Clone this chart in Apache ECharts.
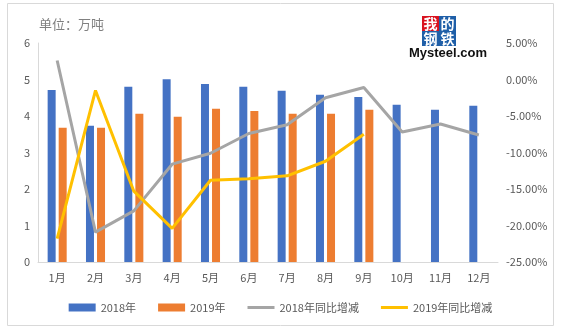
<!DOCTYPE html>
<html><head><meta charset="utf-8">
<script src="https://cdn.jsdelivr.net/npm/echarts@6/dist/echarts.min.js"></script>
<style>html,body{margin:0;padding:0;background:#fff}#c{width:561px;height:332px}</style>
</head><body><div id="c"></div>
<script>
var months = ['1月','2月','3月','4月','5月','6月','7月','8月','9月','10月','11月','12月'];
var output2018 = [4.71, 3.73, 4.80, 5.01, 4.88, 4.80, 4.69, 4.58, 4.52, 4.31, 4.17, 4.28];
var output2019 = [3.68, 3.68, 4.06, 3.98, 4.20, 4.14, 4.06, 4.06, 4.17];
var yoy2018 = [2.6, -20.9, -18.0, -11.6, -10.1, -7.4, -6.2, -2.5, -1.1, -7.2, -6.1, -7.6];
var yoy2019 = [-21.8, -1.5, -15.3, -20.4, -13.8, -13.6, -13.2, -11.2, -7.5];

var FONT = '"Noto Sans CJK SC", "Noto Sans", sans-serif';
var LINE_ICON = 'path://M0,0 L27,0 L27,3 L0,3 Z';
var chart = echarts.init(document.getElementById('c'), null, {renderer: 'canvas'});
chart.setOption({
  animation: false,
  textStyle: {fontFamily: FONT},
  grid: {left: 38, right: 63, top: 43, bottom: 70},
  graphic: [
    {type: 'rect', shape: {x: 7.5, y: 3.5, width: 546, height: 322}, style: {fill: 'none', stroke: '#d9d9d9', lineWidth: 1}},
    {type: 'text', left: 39, top: 18, style: {text: '单位：万吨', fill: '#808080', font: '13px ' + FONT}},
    {type: 'rect', shape: {x: 422, y: 16, width: 17, height: 15}, style: {fill: '#d9121f'}},
    {type: 'rect', shape: {x: 439, y: 16, width: 17, height: 15}, style: {fill: '#1f5fa8'}},
    {type: 'rect', shape: {x: 422, y: 31, width: 17, height: 15}, style: {fill: '#1f5fa8'}},
    {type: 'rect', shape: {x: 439, y: 31, width: 17, height: 15}, style: {fill: '#1f5fa8'}},
    {type: 'text', x: 430.5, y: 23.5, style: {text: '我', fill: '#fff', font: 'bold 14px "Noto Sans CJK SC"', align: 'center', verticalAlign: 'middle'}},
    {type: 'text', x: 447.5, y: 23.5, style: {text: '的', fill: '#fff', font: 'bold 14px "Noto Sans CJK SC"', align: 'center', verticalAlign: 'middle'}},
    {type: 'text', x: 430.5, y: 38.5, style: {text: '钢', fill: '#fff', font: 'bold 14px "Noto Sans CJK SC"', align: 'center', verticalAlign: 'middle'}},
    {type: 'text', x: 447.5, y: 38.5, style: {text: '铁', fill: '#fff', font: 'bold 14px "Noto Sans CJK SC"', align: 'center', verticalAlign: 'middle'}},
    {type: 'text', x: 448, y: 53, style: {text: 'Mysteel.com', fill: '#111', font: 'bold 13px "Liberation Sans", Arial, sans-serif', align: 'center', verticalAlign: 'middle'}}
  ],
  legend: {
    bottom: 14, left: 'center', itemGap: 22, itemWidth: 27, itemHeight: 8,
    textStyle: {color: '#595959', fontSize: 11, fontFamily: FONT},
    data: [
      {name: '2018年', icon: 'rect'},
      {name: '2019年', icon: 'rect'},
      {name: '2018年同比增减', icon: LINE_ICON},
      {name: '2019年同比增减', icon: LINE_ICON}
    ]
  },
  xAxis: {
    type: 'category', data: months,
    axisLine: {lineStyle: {color: '#d9d9d9', width: 1}},
    axisTick: {show: false},
    axisLabel: {color: '#595959', fontSize: 11, margin: 10, fontFamily: FONT}
  },
  yAxis: [
    {type: 'value', min: 0, max: 6, interval: 1,
     axisLine: {show: true, lineStyle: {color: '#d9d9d9'}},
     axisTick: {show: false}, splitLine: {show: false},
     axisLabel: {color: '#595959', fontSize: 11, margin: 8, fontFamily: FONT}},
    {type: 'value', min: -25, max: 5, interval: 5,
     axisLine: {show: false}, axisTick: {show: false}, splitLine: {show: false},
     axisLabel: {color: '#595959', fontSize: 11, margin: 8, fontFamily: FONT,
       formatter: function (v) { return v.toFixed(2) + '%'; }}}
  ],
  series: [
    {name: '2018年', type: 'bar', data: output2018, barWidth: 8, barGap: '38%', itemStyle: {color: '#4472C4'}},
    {name: '2019年', type: 'bar', data: output2019, barWidth: 8, itemStyle: {color: '#ED7D31'}},
    {name: '2018年同比增减', type: 'line', yAxisIndex: 1, data: yoy2018, showSymbol: false, symbol: 'none',
     lineStyle: {color: '#A5A5A5', width: 3}, itemStyle: {color: '#A5A5A5'}},
    {name: '2019年同比增减', type: 'line', yAxisIndex: 1, data: yoy2019, showSymbol: false, symbol: 'none',
     lineStyle: {color: '#FFC000', width: 3}, itemStyle: {color: '#FFC000'}}
  ]
});
</script></body></html>
